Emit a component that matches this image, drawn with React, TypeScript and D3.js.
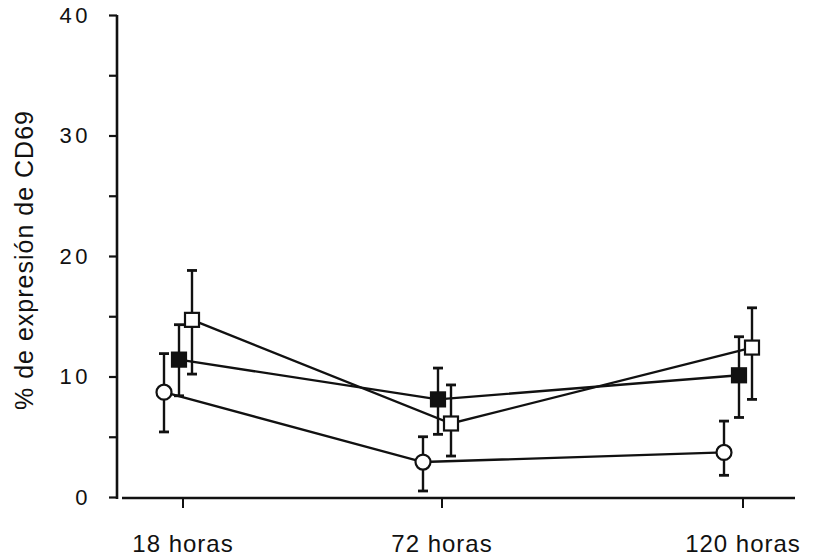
import React, { useRef, useEffect } from 'react';
import * as d3 from 'd3';

const categories = ['18 horas', '72 horas', '120 horas'];

// open circle series
const circleMean = [8.7, 2.9, 3.7];
const circleHigh = [11.9, 5.0, 6.3];
const circleLow = [5.4, 0.5, 1.8];

// filled square series
const filledMean = [11.4, 8.1, 10.1];
const filledHigh = [14.3, 10.7, 13.3];
const filledLow = [8.4, 5.2, 6.6];

// open square series
const openMean = [14.7, 6.1, 12.4];
const openHigh = [18.8, 9.3, 15.7];
const openLow = [10.2, 3.4, 8.1];

const yTicks = [0, 5, 10, 15, 20, 25, 30, 35, 40];

const W = 813;
const H = 558;
const FONT = "'Liberation Sans', Arial, Helvetica, sans-serif";

type Series = {
  name: string;
  mean: number[];
  high: number[];
  low: number[];
  shape: 'circle' | 'square';
  fill: string;
  dx: number;
};

const series: Series[] = [
  { name: 'circle', mean: circleMean, high: circleHigh, low: circleLow, shape: 'circle', fill: '#fff', dx: -19 },
  { name: 'filled', mean: filledMean, high: filledHigh, low: filledLow, shape: 'square', fill: '#111', dx: -4 },
  { name: 'open', mean: openMean, high: openHigh, low: openLow, shape: 'square', fill: '#fff', dx: 9 },
];

const App: React.FC = () => {
  const ref = useRef<SVGSVGElement | null>(null);

  useEffect(() => {
    if (!ref.current) return;
    const svg = d3.select(ref.current);
    svg.selectAll('*').remove();

    const axisX = 117;
    const baseY = 498;
    const y = d3.scaleLinear().domain([0, 40]).range([497, 15]);
    const x = d3.scaleOrdinal<string, number>().domain(categories).range([183, 442, 743]);

    // y axis, ticks every 5, labels every 10
    const yAxis = d3
      .axisLeft(y)
      .tickValues(yTicks)
      .tickSize(8)
      .tickPadding(18)
      .tickFormat((d) => ((d as number) % 10 === 0 ? String(d) : ''));
    const gy = svg.append('g').attr('transform', `translate(${axisX},0)`).call(yAxis);
    gy.select('.domain').remove();
    gy.selectAll('line').attr('stroke', '#111').attr('stroke-width', 2.2);
    gy.selectAll('text')
      .attr('font-family', FONT)
      .attr('font-size', 22)
      .attr('letter-spacing', 3.5)
      .attr('fill', '#111');
    gy.append('line')
      .attr('x1', 0)
      .attr('x2', 0)
      .attr('y1', y(40))
      .attr('y2', baseY + 1)
      .attr('stroke', '#111')
      .attr('stroke-width', 2.6);

    // x axis
    const gx = svg.append('g');
    gx.append('line')
      .attr('x1', 122)
      .attr('x2', 795)
      .attr('y1', baseY)
      .attr('y2', baseY)
      .attr('stroke', '#111')
      .attr('stroke-width', 2.6);
    gx.selectAll('line.tick')
      .data(categories)
      .enter()
      .append('line')
      .attr('class', 'tick')
      .attr('x1', (d) => x(d))
      .attr('x2', (d) => x(d))
      .attr('y1', baseY)
      .attr('y2', baseY + 10)
      .attr('stroke', '#111')
      .attr('stroke-width', 2);
    gx.selectAll('text')
      .data(categories)
      .enter()
      .append('text')
      .attr('x', (d) => x(d))
      .attr('y', 552)
      .attr('text-anchor', 'middle')
      .attr('font-family', FONT)
      .attr('font-size', 24)
      .attr('letter-spacing', 1)
      .attr('fill', '#111')
      .text((d) => d);

    // y title
    svg
      .append('text')
      .attr('transform', `translate(33,260) rotate(-90)`)
      .attr('text-anchor', 'middle')
      .attr('font-family', FONT)
      .attr('font-size', 25)
      .attr('letter-spacing', 1)
      .attr('fill', '#111')
      .text('% de expresión de CD69');

    // connecting lines
    series.forEach((s) => {
      const pts: [number, number][] = s.mean.map((m, i) => [x(categories[i]) + s.dx, y(m)]);
      svg
        .append('path')
        .attr('d', d3.line()(pts) as string)
        .attr('fill', 'none')
        .attr('stroke', '#111')
        .attr('stroke-width', 2.4);
    });

    // error bars
    series.forEach((s) => {
      const g = svg.append('g').attr('stroke', '#111').attr('stroke-width', 2.4);
      s.mean.forEach((_, i) => {
        const cx = x(categories[i]) + s.dx;
        g.append('line').attr('x1', cx).attr('x2', cx).attr('y1', y(s.high[i])).attr('y2', y(s.low[i]));
        [s.high[i], s.low[i]].forEach((v) => {
          g.append('line')
            .attr('x1', cx - 5)
            .attr('x2', cx + 5)
            .attr('y1', y(v))
            .attr('y2', y(v))
            .attr('stroke-width', 2.8);
        });
      });
    });

    // markers
    series.forEach((s) => {
      const g = svg.append('g');
      s.mean.forEach((m, i) => {
        const cx = x(categories[i]) + s.dx;
        const cy = y(m);
        if (s.shape === 'circle') {
          g.append('circle')
            .attr('cx', cx)
            .attr('cy', cy)
            .attr('r', 7.5)
            .attr('fill', s.fill)
            .attr('stroke', '#111')
            .attr('stroke-width', 2.2);
        } else {
          g.append('rect')
            .attr('x', cx - 7)
            .attr('y', cy - 7)
            .attr('width', 14)
            .attr('height', 14)
            .attr('fill', s.fill)
            .attr('stroke', '#111')
            .attr('stroke-width', 2.2);
        }
      });
    });
  }, []);

  return (
    <svg
      ref={ref}
      width={W}
      height={H}
      style={{ position: 'absolute', left: 0, top: 0, background: '#fff' }}
    />
  );
};

export default App;
